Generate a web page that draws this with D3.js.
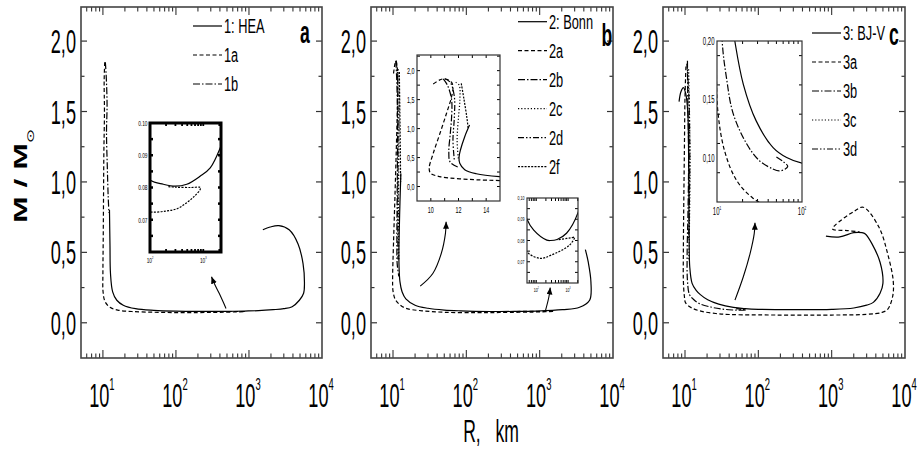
<!DOCTYPE html>
<html><head><meta charset="utf-8">
<script src="https://cdn.jsdelivr.net/npm/d3@7"></script>
<style>body{margin:0;background:#fff}svg{display:block}text{font-family:"Liberation Sans",Arial,sans-serif}</style>
</head><body><svg id="c" width="920" height="449"></svg>
<script>
// ---------------- data ([R km, M/Msun]) ----------------
const hea = [[12.3,0.80],[12.5,0.55],[12.7,0.35],[13.6,0.22],[15.5,0.16],[19,0.125],[28,0.10],[50,0.088],[100,0.0823],[178,0.081],[295,0.0804],[490,0.081],[870,0.0835],[1350,0.0861],[2140,0.0928],[3000,0.10],[3900,0.114],[4900,0.16],[5600,0.21],[5750,0.28],[5500,0.42],[4700,0.56],[3550,0.66],[2570,0.69],[1950,0.68],[1550,0.66]];
const heaA = [[10.6,1.85],[10.4,1.72],[10.5,1.5],[10.3,1.2],[10.2,0.9],[10.1,0.6],[10.0,0.35],[10.05,0.22],[10.7,0.15],[12.5,0.11],[16,0.09],[25,0.08],[50,0.075],[100,0.0725],[200,0.0727],[330,0.0735],[490,0.0753],[700,0.0775],[870,0.0793],[885,0.0799],[850,0.0801],[600,0.0800],[300,0.0801],[213,0.0803]];
const heaB = [[10.8,1.85],[11.1,1.75],[11.4,1.55],[11.2,1.35],[11.5,1.1],[11.8,0.9],[12.1,0.78]];

const bonn = [[12.8,1.06],[12.45,0.86],[12.14,0.63],[12.04,0.51],[12.09,0.40],[12.45,0.29],[13.29,0.22],[14.96,0.17],[20,0.125],[30,0.103],[50,0.0903],[83,0.0849],[214,0.0802],[280,0.0800],[450,0.0805],[890,0.0834],[2040,0.0931],[3500,0.11],[4800,0.16],[5000,0.29],[4600,0.43],[4200,0.52]];
const bonnA = [[10.17,1.77],[10.65,1.84],[11.0,1.86],[11.49,1.80],[11.6,1.71],[11.49,1.54],[11.13,1.26],[10.65,0.91],[10.17,0.57],[9.88,0.315],[9.98,0.23],[10.65,0.17],[12.09,0.133],[14.97,0.103],[25,0.085],[50,0.0747],[135,0.0716],[280,0.073],[1100,0.0778],[1580,0.0815],[1200,0.0812],[900,0.081],[450,0.0802]];
const bonnB = [[10.9,1.86],[11.2,1.75],[11.5,1.5],[11.5,1.2],[11.4,0.9],[11.3,0.6],[11.4,0.42],[12.0,0.33]];
const bonnC = [[11.8,1.80],[12.05,1.75],[12.1,1.5],[12.0,1.2],[11.9,0.8],[12.0,0.45]];
const bonnD = [[11.0,1.86],[11.4,1.8],[11.7,1.55],[11.7,1.2],[11.6,0.8],[11.7,0.45]];
const bonnF = [[12.2,1.78],[12.4,1.5],[12.6,1.2],[12.7,1.0]];

const bjv = [[8.3,1.57],[8.8,1.64],[9.5,1.67],[10.2,1.63],[10.9,1.5],[11.2,1.2],[11.3,0.9],[11.4,0.6],[11.6,0.4],[12.5,0.28],[14.2,0.23],[16.2,0.20],[20.4,0.163],[28.8,0.132],[45.7,0.109],[66,0.1005],[100,0.0957],[300,0.093],[1000,0.095],[2000,0.105],[3000,0.125],[3700,0.145],[4570,0.21],[5000,0.28],[4570,0.43],[3550,0.56],[2880,0.63],[2590,0.64],[2000,0.64],[1290,0.61],[835,0.615]];
const bjvA = [[10.3,1.82],[10.0,1.6],[9.8,1.2],[9.6,0.8],[9.5,0.5],[9.5,0.3],[9.8,0.19],[10.2,0.141],[12.3,0.106],[17,0.081],[26.3,0.066],[40,0.059],[100,0.056],[1000,0.055],[3000,0.06],[4800,0.073],[5800,0.095],[6800,0.19],[6900,0.3],[5800,0.49],[4400,0.68],[2700,0.82],[2000,0.79],[1100,0.69],[1030,0.665],[1620,0.655],[2400,0.645]];
const bjvB = [[10.8,1.86],[10.9,1.6],[11.2,1.2],[11.0,0.8],[10.7,0.5],[10.8,0.3],[11.5,0.2],[12.9,0.169],[15.5,0.138],[22.4,0.112],[31.6,0.0977],[45.7,0.0906],[53.7,0.089],[63,0.0905],[68,0.093],[60,0.097],[50,0.101]];
const bjvC = [[11.2,1.80],[11.5,1.5],[11.7,1.1],[11.5,0.7],[11.3,0.45]];
const bjvD = [[10.6,1.84],[11.2,1.65],[11.6,1.3],[11.5,0.9],[11.2,0.6]];

// annotation arrows (data coords)
const arrowA = [[485,0.102],[391,0.209],[334,0.28],[307,0.327]];
const arrowB1 = [[23.5,0.26],[34.9,0.35],[45.4,0.49],[51.9,0.635],[53,0.717]];
const arrowB2 = [[1205,0.09],[1337,0.185],[1393,0.25]];
const arrowC = [[48,0.161],[62.4,0.327],[77,0.49],[88,0.635],[90,0.71]];

// ticks / labels
const yTicks = [0,0.5,1,1.5,2];
const yTickLabels = ["0,0","0,5","1,0","1,5","2,0"];
const xDecades = [1,2,3,4];
const legendA = ["1: HEA","1a","1b"];
const legendB = ["2: Bonn","2a","2b","2c","2d","2f"];
const legendC = ["3: BJ-V","3a","3b","3c","3d"];
const panelLetters = ["a","b","c"];

// ---------------- styles ----------------
const DASH = {solid:null, dashed:"4,2.5", dashdot:"7,2,1.5,2", dotted:"1.2,2", dashdotdot:"6,2,1.5,2,1.5,2", short:"2,1.3"};

const svg = d3.select("#c");
const SX = 0.55;
const defs = svg.append("defs");
defs.append("marker").attr("id","ah").attr("markerUnits","userSpaceOnUse")
  .attr("markerWidth",8).attr("markerHeight",8).attr("refX",7).attr("refY",3)
  .attr("orient","auto").append("path").attr("d","M0,0 L7,3 L0,6 Z").attr("fill","#000");

function ctext(g,x,y,str,o={}){
  return g.append("g").attr("transform",`translate(${x},${y}) scale(${o.sx||SX},1)`)
    .append("text").attr("text-anchor",o.anchor||"middle").attr("font-size",o.size||33)
    .attr("font-weight",o.weight||"normal").attr("fill","#000").text(str);
}
function powText(g,x,y,base,exp,size,sx){
  const t = g.append("g").attr("transform",`translate(${x},${y}) scale(${sx||SX},1)`)
    .append("text").attr("text-anchor","middle").attr("font-size",size).attr("fill","#000");
  t.append("tspan").text(base);
  t.append("tspan").attr("font-size",size*0.52).attr("dy",-size*0.52).text(exp);
}

const panelBoxes = [[81,322],[371,613],[663,905]];
const plotTop = 7, plotBottom = 358;
const xDom = [Math.pow(10,0.7),1e4], yDom = [-0.25,2.242];

const panels = [
  {series:[[hea,"solid"],[heaA,"dashed"],[heaB,"dashdot"]], legend:legendA, legStyles:["solid","dashed","dashdot"], legX:193, legY:26, letter:[305,43], arrows:[arrowA]},
  {series:[[bonn,"solid"],[bonnA,"dashed"],[bonnB,"dashdot"],[bonnC,"dotted"],[bonnD,"dashdotdot"],[bonnF,"short"]], legend:legendB, legStyles:["solid","dashed","dashdot","dotted","dashdotdot","short"], legX:518, legY:21.7, letter:[607,46], arrows:[arrowB1,arrowB2]},
  {series:[[bjv,"solid"],[bjvA,"dashed"],[bjvB,"dashdot"],[bjvC,"dotted"],[bjvD,"dashdotdot"]], legend:legendC, legStyles:["solid","dashed","dashdot","dotted","dashdotdot"], legX:812, legY:33, letter:[894,45], arrows:[arrowC]}
];

panels.forEach((p,i)=>{
  const [L,R] = panelBoxes[i];
  const x = d3.scaleLog().domain(xDom).range([L,R]);
  const y = d3.scaleLinear().domain(yDom).range([plotBottom,plotTop]);
  const g = svg.append("g");
  defs.append("clipPath").attr("id","cp"+i).append("rect").attr("x",L).attr("y",plotTop).attr("width",R-L).attr("height",plotBottom-plotTop);
  // ticks
  for(let v=-0.25; v<=2.25; v+=0.25){
    const yy = y(v); if(yy<=plotTop+0.5||yy>=plotBottom-0.5) continue;
    const major = Math.abs(v/0.5-Math.round(v/0.5))<1e-6;
    const len = major?6:3.5;
    g.append("line").attr("x1",L).attr("x2",L+len).attr("y1",yy).attr("y2",yy).attr("stroke","#333").attr("stroke-width",1.2);
    g.append("line").attr("x1",R).attr("x2",R-len).attr("y1",yy).attr("y2",yy).attr("stroke","#333").attr("stroke-width",1.2);
  }
  for(let d=0; d<4; d++) for(let k=1;k<=9;k++){
    const v = k*Math.pow(10,d); if(v<=xDom[0]||v>=xDom[1]) continue;
    const xx = x(v), len = k===1?8:4.5;
    g.append("line").attr("x1",xx).attr("x2",xx).attr("y1",plotBottom).attr("y2",plotBottom-len).attr("stroke","#333").attr("stroke-width",1.1);
    g.append("line").attr("x1",xx).attr("x2",xx).attr("y1",plotTop).attr("y2",plotTop+len).attr("stroke","#333").attr("stroke-width",1.1);
  }
  g.append("rect").attr("x",L).attr("y",plotTop).attr("width",R-L).attr("height",plotBottom-plotTop)
    .attr("fill","none").attr("stroke","#444").attr("stroke-width",1.6);
  // tick labels
  yTicks.forEach((v,j)=>ctext(g,L-5,y(v)+12,yTickLabels[j],{anchor:"end"}));
  xDecades.forEach(d=>powText(g,x(Math.pow(10,d))-1,407,"10",String(d),33));
  // curves
  const line = d3.line().x(d=>x(d[0])).y(d=>y(d[1])).curve(d3.curveCatmullRom.alpha(0.5));
  const cg = g.append("g").attr("clip-path",`url(#cp${i})`);
  p.series.forEach(([data,st])=>{
    cg.append("path").attr("d",line(data)).attr("fill","none").attr("stroke","#000")
      .attr("stroke-width",1.2).attr("stroke-dasharray",DASH[st]);
  });
  // arrows
  p.arrows.forEach(a=>{
    g.append("path").attr("d",line(a)).attr("fill","none").attr("stroke","#000").attr("stroke-width",1.1).attr("marker-end","url(#ah)");
  });
  // legend
  p.legend.forEach((name,j)=>{
    const yy = p.legY + j*29;
    g.append("line").attr("x1",p.legX).attr("x2",p.legX+29).attr("y1",yy).attr("y2",yy)
      .attr("stroke","#000").attr("stroke-width",1.2).attr("stroke-dasharray",DASH[p.legStyles[j]]);
    ctext(g,p.legX+31,yy+7,name,{anchor:"start",size:20,sx:0.64});
  });
  ctext(g,p.letter[0],p.letter[1],panelLetters[i],{size:32,weight:"bold"});
});

// ---------------- insets ----------------
const insets = [
  {x0:150,x1:221,y0:123,y1:252,xlog:true,xd:[100,2150],yd:[0.06,0.10],
   yt:[0.07,0.08,0.09,0.10],yl:["0.07","0.08","0.09","0.10"],xt:[[100,"2"],[1000,"3"]],
   series:[[hea,"solid"],[heaA,"short"]],fw:3,fs:8},
  {x0:417,x1:500,y0:55,y1:201,xlog:false,xd:[9,15],yd:[-0.25,2.27],
   yt:[0,0.5,1,1.5,2],yl:["0,0","0,5","1,0","1,5","2,0"],xt:[[10,"10"],[12,"12"],[14,"14"]],
   series:[[bonn,"solid"],[bonnA,"dashed"],[bonnB,"dashdot"],[bonnC,"dotted"],[bonnD,"dashdotdot"],[bonnF,"short"]],fw:1.2,fs:9},
  {x0:527,x1:578,y0:198,y1:283,xlog:true,xd:[51,2040],yd:[0.06,0.10],
   yt:[0.07,0.08,0.09,0.10],yl:["0,07","0,08","0,09","0,10"],xt:[[100,"2"],[1000,"3"]],
   series:[[bonn,"solid"],[bonnA,"short"]],fw:1.2,fs:6},
  {x0:717,x1:802,y0:41,y1:202,xlog:true,xd:[10,100],yd:[0.0625,0.20],
   yt:[0.10,0.15,0.20],yl:["0,10","0,15","0,20"],xt:[[10,"1"],[100,"2"]],
   series:[[bjv,"solid"],[bjvA,"dashed"],[bjvB,"dashdot"]],fw:1.2,fs:10}
];
insets.forEach((c,i)=>{
  const g = svg.append("g");
  const x = (c.xlog?d3.scaleLog():d3.scaleLinear()).domain(c.xd).range([c.x0,c.x1]);
  const y = d3.scaleLinear().domain(c.yd).range([c.y1,c.y0]);
  g.append("rect").attr("x",c.x0).attr("y",c.y0).attr("width",c.x1-c.x0).attr("height",c.y1-c.y0).attr("fill","#fff");
  defs.append("clipPath").attr("id","ic"+i).append("rect").attr("x",c.x0).attr("y",c.y0).attr("width",c.x1-c.x0).attr("height",c.y1-c.y0);
  const line = d3.line().x(d=>x(d[0])).y(d=>y(d[1])).curve(d3.curveCatmullRom.alpha(0.5));
  const cg = g.append("g").attr("clip-path",`url(#ic${i})`);
  c.series.forEach(([data,st])=>{
    cg.append("path").attr("d",line(data)).attr("fill","none").attr("stroke","#000")
      .attr("stroke-width",1.2).attr("stroke-dasharray",DASH[st]);
  });
  const tk = 3;
  const ySteps = c.yt.length>1 ? (c.yt[1]-c.yt[0])/2 : 0.01;
  for(let v=c.yd[0]; v<=c.yd[1]+1e-9; v+=ySteps){
    const yy=y(v); if(yy<=c.y0+0.5||yy>=c.y1-0.5) continue;
    g.append("line").attr("x1",c.x0).attr("x2",c.x0+tk).attr("y1",yy).attr("y2",yy).attr("stroke","#000").attr("stroke-width",c.fw>2?2.5:1);
    g.append("line").attr("x1",c.x1).attr("x2",c.x1-tk).attr("y1",yy).attr("y2",yy).attr("stroke","#000").attr("stroke-width",c.fw>2?2.5:1);
  }
  let xtv=[];
  if(c.xlog){ for(let d=0;d<5;d++) for(let k=1;k<=9;k++) xtv.push(k*Math.pow(10,d)); }
  else { for(let v=Math.ceil(c.xd[0]); v<=c.xd[1]; v+=1) xtv.push(v); }
  xtv.forEach(v=>{
    if(v<=c.xd[0]||v>=c.xd[1]) return;
    const xx=x(v);
    g.append("line").attr("x1",xx).attr("x2",xx).attr("y1",c.y1).attr("y2",c.y1-tk).attr("stroke","#000").attr("stroke-width",c.fw>2?1.8:1);
    g.append("line").attr("x1",xx).attr("x2",xx).attr("y1",c.y0).attr("y2",c.y0+tk).attr("stroke","#000").attr("stroke-width",c.fw>2?1.8:1);
  });
  g.append("rect").attr("x",c.x0).attr("y",c.y0).attr("width",c.x1-c.x0).attr("height",c.y1-c.y0)
    .attr("fill","none").attr("stroke",c.fw>2?"#000":"#333").attr("stroke-width",c.fw);
  c.yt.forEach((v,j)=>ctext(g,c.x0-2.5,y(v)+c.fs*0.35,c.yl[j],{anchor:"end",size:c.fs,sx:0.6}));
  c.xt.forEach(([v,s])=>{
    if(c.xlog) powText(g,x(v),c.y1+c.fs+3,"10",s,c.fs,0.6);
    else ctext(g,x(v),c.y1+c.fs+3,s,{size:c.fs,sx:0.6});
  });
});

// ---------------- axis titles ----------------
const tg = svg.append("g").attr("transform","translate(27,176) scale(0.6,1) rotate(-90)");
const tt = tg.append("text").attr("text-anchor","middle").attr("font-size",32).attr("font-weight","bold").attr("fill","#000");
tt.append("tspan").attr("style","white-space:pre").text("M / M");
tt.append("tspan").attr("font-family","DejaVu Sans").attr("font-weight","normal").attr("font-size",17).attr("dy",12).text("\u2299");
const xt = ctext(svg,491,442,"R,   km",{size:32});
xt.attr("style","white-space:pre");
</script></body></html>
